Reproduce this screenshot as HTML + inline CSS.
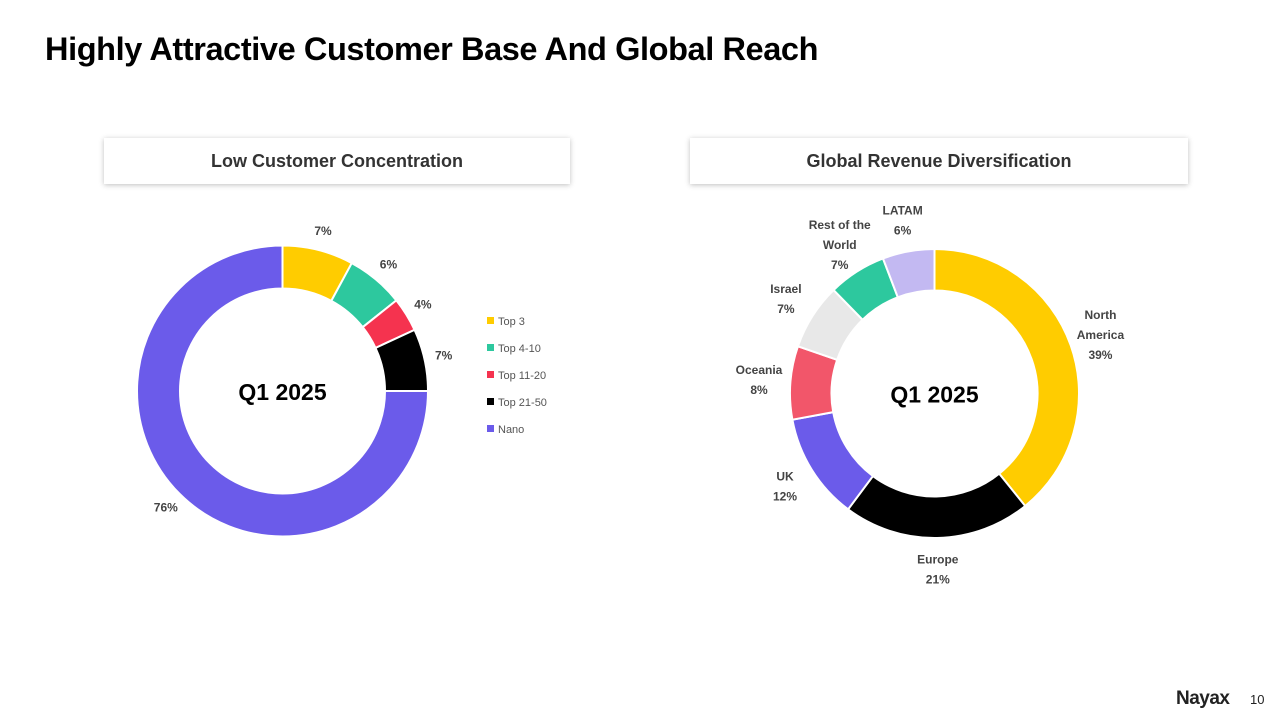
<!DOCTYPE html>
<html><head><meta charset="utf-8">
<style>
body{margin:0;width:1280px;height:720px;background:#fff;font-family:"Liberation Sans",sans-serif;position:relative;overflow:hidden}
.title{position:absolute;left:45px;top:31px;font-size:32.5px;font-weight:bold;color:#000;letter-spacing:-0.4px;white-space:nowrap}
.box{position:absolute;top:138px;height:46px;background:#fff;box-shadow:0 1px 5px rgba(0,0,0,0.25);text-align:center;line-height:46px;font-weight:bold;font-size:18px;color:#333}
svg{position:absolute;left:0;top:0}
.lbl{font-family:"Liberation Sans",sans-serif;font-size:12px;font-weight:bold;fill:#444}
.leg{font-family:"Liberation Sans",sans-serif;font-size:11px;fill:#555}
</style></head><body>
<div class="title">Highly Attractive Customer Base And Global Reach</div>
<div class="box" style="left:104px;width:466px">Low Customer Concentration</div>
<div class="box" style="left:690px;width:498px">Global Revenue Diversification</div>
<svg id="chart" width="1280" height="720"></svg>
<div style="position:absolute;left:1176px;top:688px;font-size:19px;font-weight:bold;color:#222;letter-spacing:-0.5px">Nayax</div>
<div style="position:absolute;left:1250px;top:692px;font-size:13px;color:#222">10</div>
<script>
const custCategories=["Top 3","Top 4-10","Top 11-20","Top 21-50","Nano"];
const custValues=[7.9,6.4,3.8,6.9,75];
const custColors=["#FFCC00","#2DC89E","#F5334F","#000000","#6B5BEA"];
const geoCategories=["North America","Europe","UK","Oceania","Israel","Rest of the World","LATAM"];
const geoValues=[39.2,21,11.9,8.2,7.4,6.5,5.8];
const geoColors=["#FFCC00","#000000","#6B5BEA","#F2566A","#E8E8E8","#2DC89E","#C3B9F2"];
const custLabelLines=[["7%"],["6%"],["4%"],["7%"],["76%"]];
const geoLabelLines=[["North","America","39%"],["Europe","21%"],["UK","12%"],["Oceania","8%"],["Israel","7%"],["Rest of the","World","7%"],["LATAM","6%"]];
const NS="http://www.w3.org/2000/svg";
const svg=document.getElementById('chart');
function pt(cx,cy,r,a){return [cx+r*Math.sin(a),cy-r*Math.cos(a)];}
function donut(name,cx,cy,R,ri,vals,colors,labels,labelR){
  const tot=vals.reduce((a,b)=>a+b,0);let acc=0;
  vals.forEach((v,i)=>{
    const a0=acc/tot*2*Math.PI;acc+=v;const a1=acc/tot*2*Math.PI;
    const lg=(a1-a0)>Math.PI?1:0;
    const [x0,y0]=pt(cx,cy,R,a0),[x1,y1]=pt(cx,cy,R,a1),[x2,y2]=pt(cx,cy,ri,a1),[x3,y3]=pt(cx,cy,ri,a0);
    const p=document.createElementNS(NS,'path');
    p.setAttribute('d',`M${x0},${y0}A${R},${R} 0 ${lg} 1 ${x1},${y1}L${x2},${y2}A${ri},${ri} 0 ${lg} 0 ${x3},${y3}Z`);
    p.setAttribute('fill',colors[i]);p.setAttribute('stroke','#fff');p.setAttribute('stroke-width','2');
    
    
    svg.appendChild(p);
    const am=(a0+a1)/2;const [lx,ly]=pt(cx,cy,labelR,am);
    const lines=labels[i];
    const t=document.createElementNS(NS,'text');
    t.setAttribute('class','lbl');t.setAttribute('text-anchor','middle');
    
    
    lines.forEach((s,k)=>{const ts=document.createElementNS(NS,'tspan');ts.setAttribute('x',lx);ts.setAttribute('y',ly+4+(k-(lines.length-1)/2)*20);ts.textContent=s;t.appendChild(ts);});
    svg.appendChild(t);
  });
  const c=document.createElementNS(NS,'text');
  c.setAttribute('x',cx);c.setAttribute('y',cy+9);c.setAttribute('text-anchor','middle');
  c.setAttribute('style','font-family:"Liberation Sans",sans-serif;font-size:23px;font-weight:bold');
  
  
  c.textContent='Q1 2025';svg.appendChild(c);
}
donut('cust',282.5,391,145.5,102.5,custValues,custColors,custLabelLines,165);
donut('geo',934.5,393.5,144.5,103,geoValues,geoColors,geoLabelLines,176);
custCategories.forEach((c,i)=>{
  const y=321+i*27;
  const r=document.createElementNS(NS,'rect');
  r.setAttribute('x',487);r.setAttribute('y',y-4);r.setAttribute('width',7);r.setAttribute('height',7);r.setAttribute('fill',custColors[i]);
  
  
  svg.appendChild(r);
  const t=document.createElementNS(NS,'text');
  t.setAttribute('x',498);t.setAttribute('y',y+4);t.setAttribute('class','leg');t.textContent=c;
  
  
  svg.appendChild(t);
});
</script>
</body></html>
